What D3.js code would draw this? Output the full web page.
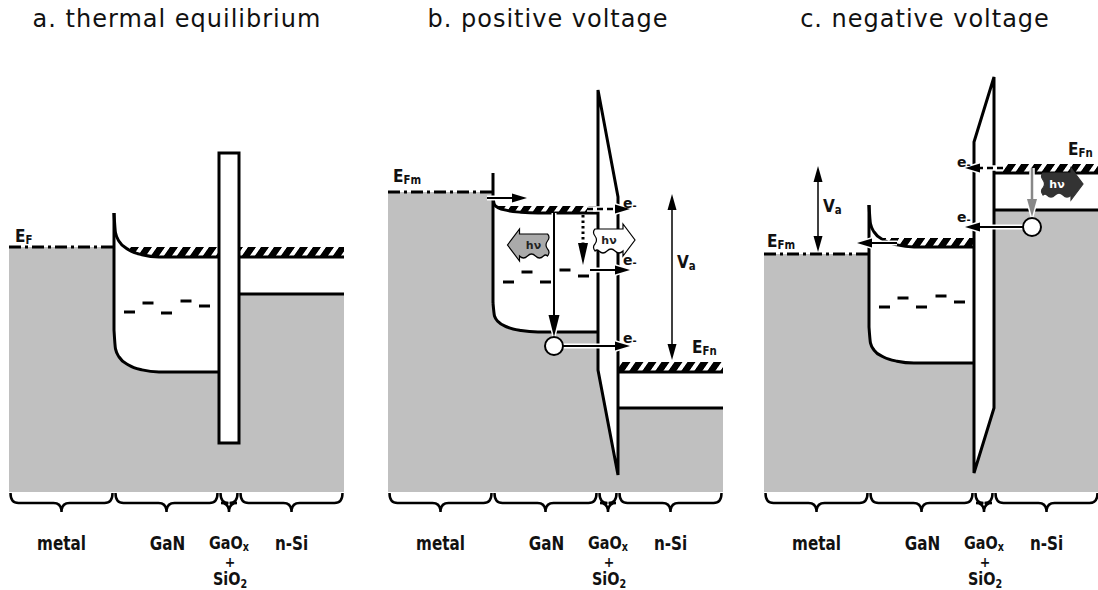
<!DOCTYPE html>
<html><head><meta charset="utf-8">
<script src="https://cdn.jsdelivr.net/npm/d3@7"></script>
<style>body{margin:0;background:#fff;} svg{display:block;}</style>
</head><body>
<svg id="chart" width="1098" height="590"></svg>
<script>
// ---------------- data (energies in arbitrary units, positions in length units) ----------------
const titles = ["a. thermal equilibrium", "b. positive voltage", "c. negative voltage"];
const regionNames = ["metal", "GaN", "GaOx+SiO2", "n-Si"];
const regionWidths = [105, 105, 20, 105];
const metalFermi = [245, 300, 238];
const ganSpikeTop = [279, 319, 287];
const ganCBLeft = [279, 294, 287];
const ganCBFlat = [235, 279, 245];
const ganVBLeft = [162, 189, 165];
const ganVBFlat = [120, 160, 129];
const ganQuasiFermi = [245, 286, 254];
const bendPos = [0, 1.5, 5, 15, 28, 45, 105];
const bendFrac = [1, 0.55, 0.36, 0.16, 0.05, 0, 0];
const defectPos = [15.5, 34, 52.5, 72, 90.5];
const defectLevels = [[180, 189, 179, 191, 186], [210, 220, 210, 222, 216], [185, 194, 185, 196, 190]];
// oxide corners: leftTop, rightTop, rightBottom, leftBottom
const oxideCorners = [[339, 339, 49, 49], [402, 295, 17, 122], [350, 415, 84, 19]];
const siCB = [235, 120, 319];
const siVB = [198, 84, 282];
const siFermi = [245, 130, 328];
const siHatchStart = [0, 0, 9];
// carrier transitions: [panel, x1, E1, x2, E2, kind]
const transitions = [
  [1, 99, 294, 139, 294, "solid"],
  [1, 199, 283, 242, 283, "dashed"],
  [1, 166, 279, 166, 155, "solidV"],
  [1, 175, 146, 242, 146, "solid"],
  [1, 195, 277, 195, 227, "dotted"],
  [1, 202, 222, 242, 222, "solid"],
  [2, 133, 249, 93, 249, "solid"],
  [2, 239, 324, 201, 324, "dashed"],
  [2, 268, 324, 268, 275, "grey"],
  [2, 259, 265, 201, 265, "solid"]
];
const holes = [[1, 166, 146], [2, 268, 265]];
const electronLabels = [[1, 235, 284], [1, 235, 227], [1, 235, 149], [2, 193, 325], [2, 193, 270]];
// photons: [panel, x, E, direction, tone]
const photons = [[1, 139.5, 247, -1, "light"], [1, 227, 252, 1, "white"], [2, 299, 308, 1, "dark"]];
const vaX = [null, 284, 54];
const vaLabels = [[1, 289, 224], [2, 59, 280]];
const fermiLabels = [[0, 6, 250, "F"], [1, 5, 310, "Fm"], [1, 304, 139, "Fn"], [2, 3, 245, "Fm"], [2, 304, 337, "Fn"]];

// ---------------- layout ----------------
const svg = d3.select("#chart");
const GREY = "#c0c0c0";
const FONT = "'DejaVu Sans', Verdana, sans-serif";
const yE = d3.scaleLinear().domain([0, 420]).range([492, 72]);
const panelX0 = [9, 388, 764];
const panelW = d3.sum(regionWidths);
const xs = panelX0.map(x0 => d3.scaleLinear().domain([0, panelW]).range([x0, x0 + panelW]));
const cum = [0];
regionWidths.forEach(w => cum.push(cum[cum.length - 1] + w));
const titleX = [177, 548, 925];

const defs = svg.append("defs");
const pat = defs.append("pattern").attr("id", "hatch").attr("patternUnits", "userSpaceOnUse")
  .attr("width", 13).attr("height", 13).attr("patternTransform", "skewX(-35)");
pat.append("rect").attr("width", 13).attr("height", 13).attr("fill", "#000");
pat.append("rect").attr("x", 0).attr("width", 5).attr("height", 13).attr("fill", "#fff");

function richText(g, x, y, parts, size, opts = {}) {
  const sx = opts.sx ?? 0.8, anchor = opts.anchor ?? "start", subDy = opts.subDy ?? 3, subSize = opts.subSize ?? size * 0.65;
  const t = g.append("text").attr("transform", `translate(${x},${y}) scale(${sx},1)`)
    .attr("text-anchor", anchor).attr("font-family", FONT).attr("font-weight", opts.weight ?? "bold")
    .attr("font-size", size).attr("fill", opts.fill ?? "#111");
  let shift = 0;
  parts.forEach(([s, type]) => {
    const ts = t.append("tspan").text(s);
    if (type === "sub") { ts.attr("font-size", subSize).attr("dy", subDy - shift); shift = subDy; }
    else if (shift) { ts.attr("dy", -shift); shift = 0; }
  });
  return t;
}

function drawArrow(g, x1, y1, x2, y2, o = {}) {
  const color = o.color ?? "#000", width = o.width ?? 2, headLen = o.headLen ?? 15, headW = o.headW ?? 9;
  const dx = x2 - x1, dy = y2 - y1, L = Math.hypot(dx, dy), ux = dx / L, uy = dy / L;
  const bx = x2 - ux * headLen, by = y2 - uy * headLen, px = -uy, py = ux;
  const head = [[x2, y2], [bx + px * headW / 2, by + py * headW / 2], [bx - px * headW / 2, by - py * headW / 2]];
  const sx2 = bx + ux * 2, sy2 = by + uy * 2;
  if (o.halo !== false) {
    g.append("line").attr("x1", x1).attr("y1", y1).attr("x2", sx2).attr("y2", sy2)
      .attr("stroke", "#fff").attr("stroke-width", width + 3);
    g.append("polygon").attr("points", head.join(" ")).attr("fill", "#fff").attr("stroke", "#fff").attr("stroke-width", 3);
  }
  const ln = g.append("line").attr("x1", x1).attr("y1", y1).attr("x2", sx2).attr("y2", sy2)
    .attr("stroke", color).attr("stroke-width", width);
  if (o.dash) ln.attr("stroke-dasharray", o.dash);
  g.append("polygon").attr("points", head.join(" ")).attr("fill", color);
}

const photonPath = "M-20,-11 H8 V-16 L20,0 L8,16 V11 Q4,15 0,11 Q-4,7 -8,11 Q-12,15 -16,11 Q-18,9 -20,11 " +
  "Q-23,7 -20,4 Q-17,0 -20,-4 Q-23,-8 -20,-11 Z";
const tones = { light: ["#aaaaaa", "#000", "#222"], white: ["#ffffff", "#000", "#222"], dark: ["#333333", "#333", "#fff"] };

function brace(g, x0, x1) {
  const cx = (x0 + x1) / 2, t = 493, m = 503, b = 512, r = 8;
  const d = `M${x0},${t} Q${x0},${m} ${x0 + r},${m} L${cx - r},${m} Q${cx},${m} ${cx},${b} ` +
    `Q${cx},${m} ${cx + r},${m} L${x1 - r},${m} Q${x1},${m} ${x1},${t}`;
  g.append("path").attr("d", d).attr("fill", "none").attr("stroke", "#000").attr("stroke-width", 2.5);
}

const curveLine = d3.line().curve(d3.curveMonotoneX);

titles.forEach((title, i) => {
  const x = xs[i];
  const g = svg.append("g");
  const yB = yE(0);
  const ganX = p => x(cum[1] + p);
  const cbPts = bendPos.map((p, k) => [ganX(p), yE(ganCBFlat[i] + (ganCBLeft[i] - ganCBFlat[i]) * bendFrac[k])]);
  const vbPts = bendPos.map((p, k) => [ganX(p), yE(ganVBFlat[i] + (ganVBLeft[i] - ganVBFlat[i]) * bendFrac[k])]);

  // title
  g.append("text").attr("x", titleX[i]).attr("y", 27).attr("text-anchor", "middle")
    .attr("font-family", FONT).attr("font-size", 24).attr("letter-spacing", 1).attr("fill", "#111").text(title);

  // grey filled states
  g.append("rect").attr("x", x(cum[0])).attr("y", yE(metalFermi[i]))
    .attr("width", x(cum[1]) - x(cum[0]) + 1).attr("height", yB - yE(metalFermi[i])).attr("fill", GREY);
  g.append("path").attr("d", d3.area().curve(d3.curveMonotoneX).x(d => d[0]).y0(yB).y1(d => d[1])(vbPts)).attr("fill", GREY);
  const colTop = Math.max(ganVBFlat[i], siVB[i]);
  g.append("rect").attr("x", x(cum[2]) - 1).attr("y", yE(colTop)).attr("width", x(cum[3]) - x(cum[2]) + 2)
    .attr("height", yB - yE(colTop)).attr("fill", GREY);
  g.append("rect").attr("x", x(cum[3]) - 1).attr("y", yE(siVB[i])).attr("width", x(cum[4]) - x(cum[3]) + 1)
    .attr("height", yB - yE(siVB[i])).attr("fill", GREY);

  // hatched electron accumulation above CB
  const clipId = "cbclip" + i;
  defs.append("clipPath").attr("id", clipId).append("path")
    .attr("d", d3.area().curve(d3.curveMonotoneX).x(d => d[0]).y0(0).y1(d => d[1])(cbPts));
  g.append("rect").attr("x", ganX(0)).attr("y", yE(ganQuasiFermi[i]))
    .attr("width", x(cum[2]) - ganX(0)).attr("height", yE(ganCBFlat[i]) - yE(ganQuasiFermi[i]) + 1)
    .attr("fill", "url(#hatch)").attr("clip-path", `url(#${clipId})`);
  g.append("rect").attr("x", x(cum[3] + siHatchStart[i])).attr("y", yE(siFermi[i]))
    .attr("width", x(cum[4]) - x(cum[3] + siHatchStart[i])).attr("height", yE(siCB[i]) - yE(siFermi[i]))
    .attr("fill", "url(#hatch)");

  // band edges
  const band = sel => sel.attr("fill", "none").attr("stroke", "#000").attr("stroke-width", 3);
  band(g.append("path").attr("d", curveLine(cbPts)));
  band(g.append("path").attr("d", curveLine(vbPts)));
  band(g.append("line").attr("x1", ganX(0)).attr("x2", ganX(0)).attr("y1", yE(ganSpikeTop[i])).attr("y2", yE(ganVBLeft[i])));
  band(g.append("line").attr("x1", x(cum[3])).attr("x2", x(cum[4])).attr("y1", yE(siCB[i])).attr("y2", yE(siCB[i])));
  band(g.append("line").attr("x1", x(cum[3])).attr("x2", x(cum[4])).attr("y1", yE(siVB[i])).attr("y2", yE(siVB[i])));
  band(g.append("line").attr("x1", x(cum[0])).attr("x2", x(cum[1])).attr("y1", yE(metalFermi[i])).attr("y2", yE(metalFermi[i])))
    .attr("stroke-dasharray", "12,4,3,4");

  // oxide barrier
  const oc = oxideCorners[i];
  g.append("polygon").attr("points", [[x(cum[2]), yE(oc[0])], [x(cum[3]), yE(oc[1])], [x(cum[3]), yE(oc[2])], [x(cum[2]), yE(oc[3])]].join(" "))
    .attr("fill", "#fff").attr("stroke", "#000").attr("stroke-width", 3).attr("stroke-linejoin", "miter");

  // defect levels
  defectPos.forEach((p, k) => {
    g.append("line").attr("x1", ganX(p - 5.5)).attr("x2", ganX(p + 5.5))
      .attr("y1", yE(defectLevels[i][k])).attr("y2", yE(defectLevels[i][k])).attr("stroke", "#000").attr("stroke-width", 3);
  });

  // braces and region labels
  regionNames.forEach((name, r) => brace(g, x(cum[r]) + 1.5, x(cum[r + 1]) - 1.5));
  const cx = r => x((cum[r] + cum[r + 1]) / 2);
  richText(g, cx(0), 550, [["metal"]], 19, { anchor: "middle", sx: 0.8 });
  richText(g, cx(1) + 1, 550, [["GaN"]], 19, { anchor: "middle", sx: 0.8 });
  richText(g, cx(2), 549, [["GaO"], ["x", "sub"]], 18, { anchor: "middle", sx: 0.8, subDy: 2, subSize: 12 });
  richText(g, cx(2) + 1, 567, [["+"]], 14, { anchor: "middle", sx: 0.9 });
  richText(g, cx(2) + 1, 585, [["SiO"], ["2", "sub"]], 18, { anchor: "middle", sx: 0.8, subDy: 3, subSize: 12 });
  richText(g, cx(3), 550, [["n-Si"]], 19, { anchor: "middle", sx: 0.8 });
});

// annotations
const ann = svg.append("g");
transitions.forEach(([p, x1, e1, x2, e2, kind]) => {
  const x = xs[p];
  const o = {};
  if (kind === "dashed") { o.dash = "6,4"; o.width = 2.5; }
  if (kind === "dotted") { o.dash = "2.5,3"; o.width = 3; o.headLen = 22; o.headW = 10; }
  if (kind === "solidV") { o.headLen = 22; o.headW = 11; }
  if (kind === "grey") { o.color = "#888"; o.width = 2.5; o.headLen = 18; o.headW = 10; }
  drawArrow(ann, x(x1), yE(e1), x(x2), yE(e2), o);
});
holes.forEach(([p, hx, he]) => {
  ann.append("circle").attr("cx", xs[p](hx)).attr("cy", yE(he)).attr("r", 9)
    .attr("fill", "#fff").attr("stroke", "#000").attr("stroke-width", 2);
});
electronLabels.forEach(([p, lx, le]) => {
  const t = ann.append("text").attr("x", xs[p](lx)).attr("y", yE(le)).attr("font-family", FONT)
    .attr("font-weight", "bold").attr("font-size", 14).attr("fill", "#111");
  t.append("tspan").text("e");
  t.append("tspan").attr("font-size", 10).attr("dy", 1).text("-");
});
photons.forEach(([p, px, pe, dir, tone]) => {
  const [fill, stroke, tf] = tones[tone];
  const pg = ann.append("g").attr("transform", `translate(${xs[p](px)},${yE(pe)})`);
  pg.append("path").attr("d", photonPath).attr("transform", `scale(${dir},1)`)
    .attr("fill", fill).attr("stroke", stroke).attr("stroke-width", 1.2);
  pg.append("text").attr("x", -6 * dir).attr("y", 4).attr("text-anchor", "middle").attr("font-family", FONT)
    .attr("font-weight", "bold").attr("font-size", 11).attr("fill", tf).text("hν");
});
vaX.forEach((vx, p) => {
  if (vx === null) return;
  const x = xs[p](vx), y1 = yE(metalFermi[p]), y2 = yE(siFermi[p]);
  const mid = (y1 + y2) / 2;
  drawArrow(ann, x, mid, x, y1 + (y1 < y2 ? 2 : -2), { width: 1.5, headLen: 16, headW: 9, halo: false });
  drawArrow(ann, x, mid, x, y2 + (y2 < y1 ? 2 : -2), { width: 1.5, headLen: 16, headW: 9, halo: false });
});
vaLabels.forEach(([p, lx, le]) => richText(ann, xs[p](lx), yE(le), [["V"], ["a", "sub"]], 18, { sx: 0.85, subDy: 2, subSize: 12 }));
fermiLabels.forEach(([p, lx, le, sub]) => richText(ann, xs[p](lx), yE(le), [["E"], [sub, "sub"]], 18, { sx: 0.85, subDy: 2, subSize: 12 }));
</script>
</body></html>
